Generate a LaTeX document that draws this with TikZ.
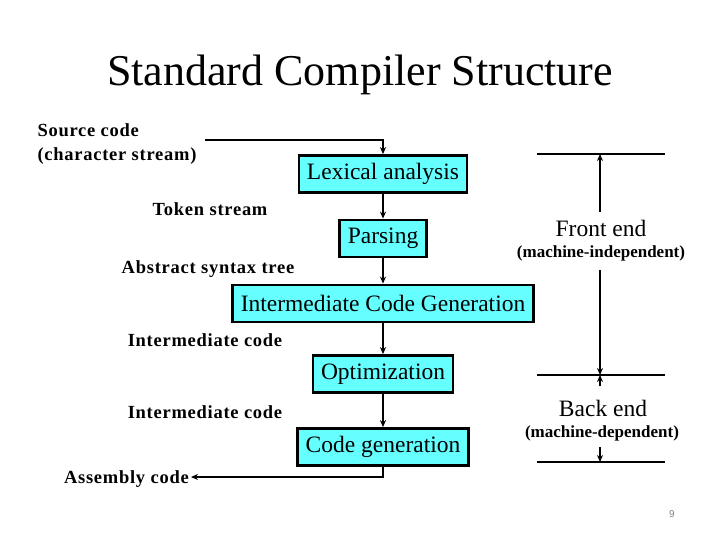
\documentclass[tikz,border=0pt]{standalone}
\usepackage{fontspec}
\setmainfont{Liberation Serif}
\setsansfont{Liberation Sans}
\newfontfamily\widebold[LetterSpace=4]{Liberation Serif}
\usetikzlibrary{arrows.meta}
\definecolor{boxcyan}{RGB}{102,255,255}
\tikzset{
  phase/.style={draw=black, line width=2.8pt, fill=boxcyan, inner xsep=8pt,
    minimum height=37pt, font=\fontsize{23.5}{26}\selectfont},
  datalbl/.style={font=\widebold\fontsize{18.5}{24}\selectfont\bfseries},
  flow/.style={line width=1.8pt, -{Stealth[length=7pt,width=6pt]}},
  bar/.style={line width=2.2pt},
}
\begin{document}
\begin{tikzpicture}[x=1pt,y=-1pt]
  \useasboundingbox (0,0) rectangle (720,540);
  \node[anchor=base, font=\fontsize{44}{48}\selectfont] (title) at (360,86) {Standard Compiler Structure};
  % compiler phases
  \node[phase] (lex)   at (383,174)   {Lexical analysis};
  \node[phase] (parse) at (383,238.5) {Parsing};
  \node[phase] (icg)   at (383,303.5) {Intermediate Code Generation};
  \node[phase] (opt)   at (383,374)   {Optimization};
  \node[phase] (cgen)  at (383,447)   {Code generation};
  % data between phases
  \node[datalbl, anchor=west, align=left] (src) at (34,144) {Source code\\(character stream)};
  \node[datalbl] (tok) at (210,209) {Token stream};
  \node[datalbl] (ast) at (208,269) {Abstract syntax tree};
  \node[datalbl] (ic1) at (205,340) {Intermediate code};
  \node[datalbl] (ic2) at (205,412) {Intermediate code};
  \node[datalbl, anchor=east, inner xsep=2pt] (asm) at (191,479) {Assembly code};
  \coordinate (srcend) at (205,140);
  \draw[flow] (srcend) -| (lex.north);
  \draw[flow] (lex) -- (parse);
  \draw[flow] (parse) -- (icg);
  \draw[flow] (icg) -- (opt);
  \draw[flow] (opt) -- (cgen);
  \draw[flow] (cgen.south) |- ([yshift=2pt]asm.east);
  % front end / back end span
  \coordinate (t1) at (537,154);  \coordinate (t2) at (665,154);
  \coordinate (m1) at (537,375);  \coordinate (m2) at (665,375);
  \coordinate (b1) at (537,462);  \coordinate (b2) at (665,462);
  \draw[bar] (t1) -- (t2);
  \draw[bar] (m1) -- (m2);
  \draw[bar] (b1) -- (b2);
  \node[font=\fontsize{23.5}{26}\selectfont] (fe) at (601,228) {Front end};
  \node[font=\fontsize{17}{20}\selectfont\bfseries] (fedesc) at (601,253) {(machine-independent)};
  \node[font=\fontsize{23.5}{26}\selectfont] (be) at (603,408) {Back end};
  \node[font=\fontsize{17}{20}\selectfont\bfseries] (bedesc) at (602,433) {(machine-dependent)};
  \draw[flow] (fe.north -| 600,0) ++(0,-4) -- (600,154);
  \draw[flow] (600,270) -- (600,375);
  \draw[flow] (600,386) -- (600,375);
  \draw[flow] (600,447) -- (600,462);
  \node[font=\sffamily\fontsize{10}{12}\selectfont, text=gray] (pg) at (672,514) {9};
\end{tikzpicture}
\end{document}
